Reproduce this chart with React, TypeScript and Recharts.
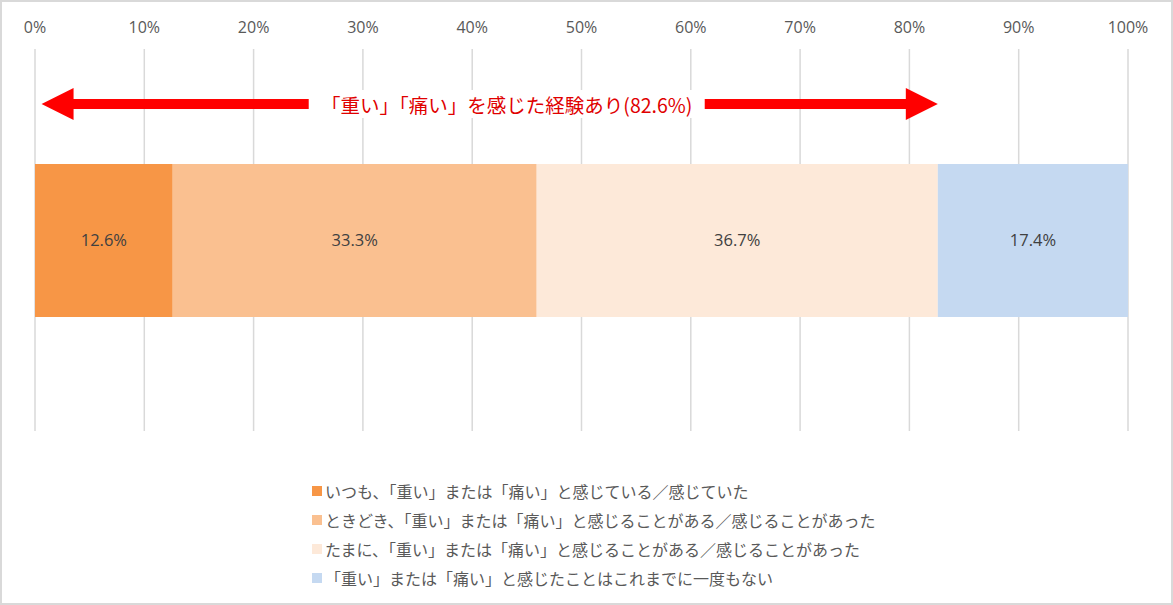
import React from 'react';
import {
  BarChart,
  Bar,
  ScatterChart,
  XAxis,
  YAxis,
  CartesianGrid,
  LabelList,
  ReferenceLine,
} from 'recharts';

// share of respondents per answer (fractions of 1)
const CATEGORIES = ['回答'];
const ALWAYS = [0.126];
const SOMETIMES = [0.333];
const OCCASIONALLY = [0.367];
const NEVER = [0.174];

const SERIES = [
  { key: 'always', name: 'いつも、「重い」または「痛い」と感じている／感じていた', color: '#F79646' },
  { key: 'sometimes', name: 'ときどき、「重い」または「痛い」と感じることがある／感じることがあった', color: '#FAC090' },
  { key: 'occasionally', name: 'たまに、「重い」または「痛い」と感じることがある／感じることがあった', color: '#FDE9D9' },
  { key: 'never', name: '「重い」または「痛い」と感じたことはこれまでに一度もない', color: '#C5D9F1' },
];

const TICKS = [0, 0.1, 0.2, 0.3, 0.4, 0.5, 0.6, 0.7, 0.8, 0.9, 1];

// annotation arrow: span on the value axis, height as a share of the plot
const ARROW_FROM = 0.006;
const ARROW_TO = 0.826;
const ARROW_LEVEL = 0.856;
const ARROW_TEXT = '「重い」「痛い」を感じた経験あり(82.6%)';

const data = CATEGORIES.map((name, i) => ({
  name,
  always: ALWAYS[i],
  sometimes: SOMETIMES[i],
  occasionally: OCCASIONALLY[i],
  never: NEVER[i],
}));

const JP_FONT = '"Noto Sans CJK JP", "Noto Sans", sans-serif';
const MARGIN = { top: 49, right: 45, bottom: 174, left: 35 };

const pct = (v: number) => `${(v * 100).toFixed(1)}%`;

const ArrowShape = (props: any) => {
  const { x1, y1, x2 } = props;
  if (x1 == null || x2 == null) return null;
  const y = y1;
  const head = 32;
  const half = 16;
  const cx = x1 + (x2 - x1) * 0.519;
  return (
    <g>
      <rect x={x1 + head - 1} y={y - 5} width={x2 - x1 - 2 * head + 2} height={10} fill="#FF0000" />
      <polygon points={`${x1},${y} ${x1 + head},${y - half} ${x1 + head},${y + half}`} fill="#FF0000" />
      <polygon points={`${x2},${y} ${x2 - head},${y - half} ${x2 - head},${y + half}`} fill="#FF0000" />
      <rect x={cx - 198} y={y - 14} width={396} height={28} fill="#FFFFFF" />
      <text
        x={cx}
        y={y}
        textAnchor="middle"
        dominantBaseline="central"
        fontSize={19.5}
        fill="#E00000"
        fontFamily={JP_FONT}
      >
        {ARROW_TEXT}
      </text>
    </g>
  );
};

const LegendBox = () => (
  <div
    style={{
      position: 'absolute',
      left: 310,
      top: 474,
      fontFamily: JP_FONT,
      fontSize: 16,
      color: '#595959',
      whiteSpace: 'nowrap',
    }}
  >
    {SERIES.map((s) => (
      <div key={s.key} style={{ display: 'flex', alignItems: 'center', height: 29 }}>
        <span style={{ width: 10, height: 10, background: s.color, marginRight: 3, display: 'inline-block' }} />
        <span>{s.name}</span>
      </div>
    ))}
  </div>
);

export default function App() {
  return (
    <div
      style={{
        position: 'absolute',
        left: 0,
        top: 0,
        width: 1173,
        height: 605,
        background: '#FFFFFF',
        border: '2px solid #D9D9D9',
        boxSizing: 'border-box',
      }}
    >
      <div style={{ position: 'absolute', left: -2, top: -2 }}>
        <BarChart
          width={1173}
          height={605}
          data={data}
          layout="vertical"
          barSize={153}
          margin={{ ...MARGIN, top: 0 }}
        >
          <CartesianGrid horizontal={false} stroke="#D9D9D9" strokeWidth={1.5} />
          <XAxis
            type="number"
            orientation="top"
            domain={[0, 1]}
            ticks={TICKS}
            tickFormatter={(v: number) => `${Math.round(v * 100)}%`}
            axisLine={false}
            tickLine={false}
            height={49}
            tickMargin={10}
            interval={0}
            tick={{ fill: '#595959', fontSize: 16, fontFamily: '"Open Sans", sans-serif' }}
          />
          <YAxis type="category" dataKey="name" hide />
          {SERIES.map((s) => (
            <Bar key={s.key} dataKey={s.key} name={s.name} stackId="a" fill={s.color} isAnimationActive={false}>
              <LabelList
                dataKey={s.key}
                position="center"
                formatter={(v: any) => pct(Number(v))}
                fill="#404040"
                fontSize={16.5}
                fontFamily='"Open Sans", sans-serif'
              />
            </Bar>
          ))}
        </BarChart>
      </div>
      {/* overlay with two numeric axes for the annotation arrow */}
      <div style={{ position: 'absolute', left: -2, top: -2, pointerEvents: 'none' }}>
        <ScatterChart width={1173} height={605} margin={MARGIN}>
          <XAxis type="number" dataKey="x" domain={[0, 1]} allowDataOverflow hide />
          <YAxis type="number" dataKey="y" domain={[0, 1]} allowDataOverflow hide />
          <ReferenceLine
            segment={[
              { x: ARROW_FROM, y: ARROW_LEVEL },
              { x: ARROW_TO, y: ARROW_LEVEL },
            ]}
            shape={ArrowShape}
            ifOverflow="visible"
          />
        </ScatterChart>
      </div>
      <LegendBox />
    </div>
  );
}
